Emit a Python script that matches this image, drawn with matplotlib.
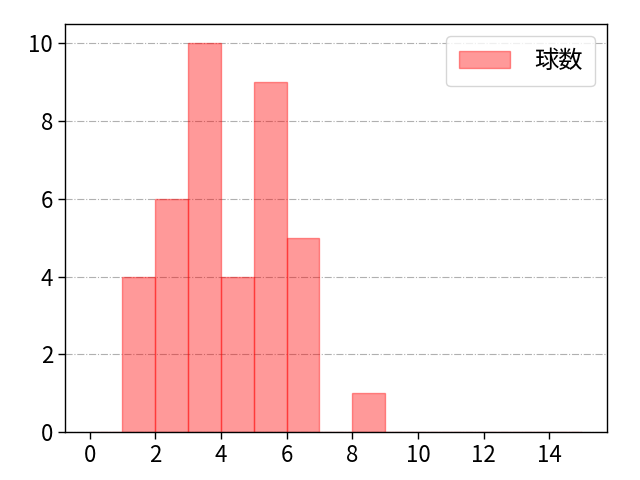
import matplotlib
matplotlib.use("Agg")
import matplotlib.pyplot as plt
import numpy as np

plt.rcParams['font.family'] = ['Noto Sans CJK JP', 'DejaVu Sans']

bin_edges = list(range(0, 16))
counts = [0, 4, 6, 10, 4, 9, 5, 0, 1, 0, 0, 0, 0, 0, 0]
label = "球数"

fig, ax = plt.subplots(figsize=(6.4, 4.8), dpi=100)
centers = np.array(bin_edges[:-1]) + 0.5
ax.hist(centers, bins=bin_edges, weights=counts, color='red', alpha=0.4,
        edgecolor='red', linewidth=1, label=label)
ax.grid(axis='y', linestyle='-.', color='#b0b0b0')
ax.set_axisbelow(True)
ax.set_xticks([0, 2, 4, 6, 8, 10, 12, 14])
ax.tick_params(labelsize=16, length=5, width=1)
for s in ax.spines.values():
    s.set_linewidth(1)
ax.legend(fontsize=17.5, loc='upper right', handlelength=2.1, handletextpad=1.0,
          borderpad=0.5)
fig.subplots_adjust(left=0.1016, right=0.948, top=0.95, bottom=0.1)
fig.savefig("out.png")
